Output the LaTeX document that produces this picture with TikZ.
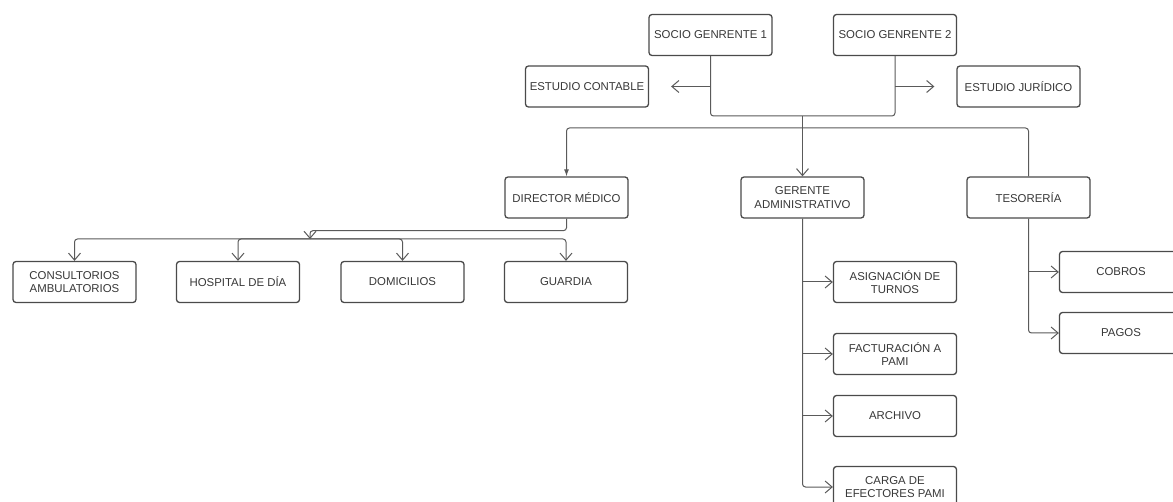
\documentclass[tikz,border=0pt]{standalone}
\usepackage{fontspec}
\setmainfont{Liberation Sans}
\usetikzlibrary{arrows.meta}
\definecolor{linegray}{HTML}{5A5A5A}
\definecolor{boxgray}{HTML}{4A4A4A}
\definecolor{textgray}{HTML}{383838}

\begin{document}
\begin{tikzpicture}[x=1pt,y=-1pt,
	box/.style={draw=boxgray,line width=1.3pt,rounded corners=3pt,minimum width=123pt,minimum height=41pt,inner sep=2pt,align=center,text=textgray,font=\fontsize{11.4}{13.5}\selectfont},
	link/.style={draw=linegray,line width=1pt,rounded corners=3pt},
	arr/.style={link,-{Straight Barb[length=7pt,width=12pt]}},
	tri/.style={link,-{Latex[length=7pt,width=5pt]}}]
	\path[use as bounding box,fill=white] (0,0) rectangle (1173,502);
	\node[box] (sg1) at (710.5,35) {SOCIO GENRENTE 1};
	\node[box] (sg2) at (895,35) {SOCIO GENRENTE 2};
	\node[box] (ec) at (587,86.5) {ESTUDIO CONTABLE};
	\node[box] (ej) at (1018.5,86.5) {ESTUDIO JURÍDICO};
	\node[box] (dir) at (566.5,197.5) {DIRECTOR MÉDICO};
	\node[box] (ger) at (802.5,197.5) {GERENTE\\ADMINISTRATIVO};
	\node[box] (tes) at (1028.5,197.5) {TESORERÍA};
	\node[box] (cons) at (74.5,282) {CONSULTORIOS\\AMBULATORIOS};
	\node[box] (hosp) at (238,282) {HOSPITAL DE DÍA};
	\node[box] (dom) at (402.5,282) {DOMICILIOS};
	\node[box] (guar) at (566,282) {GUARDIA};
	\node[box] (asig) at (895,282) {ASIGNACIÓN DE\\TURNOS};
	\node[box] (fact) at (895,354) {FACTURACIÓN A\\PAMI};
	\node[box] (arch) at (895,416) {ARCHIVO};
	\node[box] (carga) at (895,487) {CARGA DE\\EFECTORES PAMI};
	\node[box] (cob) at (1121,272) {COBROS};
	\node[box] (pag) at (1121,333) {PAGOS};
	\coordinate (join) at (802.5,116);
	\coordinate (bus) at (802.5,128);
	\coordinate (dtip) at (310,239);
	\draw[link] (sg1.south) |- (join) -| (sg2.south);
	\draw[arr,shorten >=22pt] (sg1.south |- ec.east) -- (ec.east);
	\draw[arr,shorten >=22pt] (sg2.south |- ej.west) -- (ej.west);
	\draw[arr] (join) -- (ger.north);
	\draw[tri] (tes.north) |- (bus) -| (dir.north);
	\draw[arr] (dir.south) -- ++(0,12) -| (dtip);
	\foreach \n in {cons,hosp,dom,guar}
		\draw[arr] (dtip) -| (\n.north);
	\draw[arr] (ger.south) |- (carga.west);
	\foreach \n in {asig,fact,arch}
		\draw[arr] (ger.south |- \n.west) -- (\n.west);
	\draw[arr] (tes.south) |- (pag.west);
	\draw[arr] (tes.south |- cob.west) -- (cob.west);
\end{tikzpicture}
\end{document}
